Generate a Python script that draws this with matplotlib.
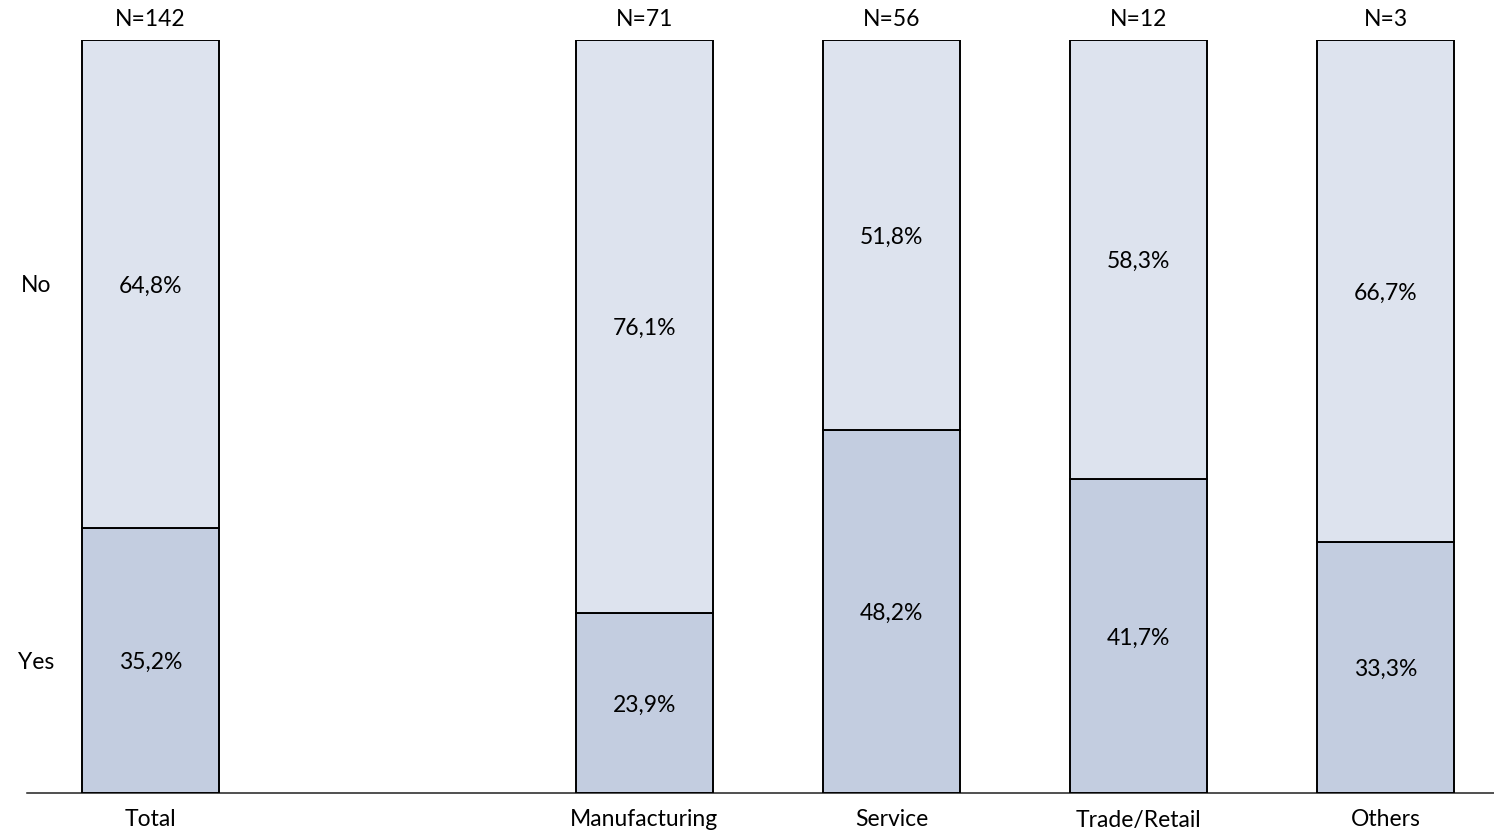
import numpy as np
import matplotlib
matplotlib.use('Agg')
import matplotlib.pyplot as plt

plt.rcParams['font.family'] = ['Lato', 'DejaVu Sans']

# data
categories = ['Total', 'Manufacturing', 'Service', 'Trade/Retail', 'Others']
yes_pct = [35.2, 23.9, 48.2, 41.7, 33.3]
no_pct = [64.8, 76.1, 51.8, 58.3, 66.7]
n_obs = [142, 71, 56, 12, 3]
segment_names = ['Yes', 'No']

YES_COLOR = '#C3CDE0'
NO_COLOR = '#DDE3EE'


def fmt_pct(v):
    """German style percent label, comma as decimal sign"""
    return '{:.1f}%'.format(v).replace('.', ',')


# Total sits alone, one empty slot before the sectors
x = np.array([0] + [i + 2 for i in range(len(categories) - 1)])
yes = np.array(yes_pct)
no = np.array(no_pct)

fig = plt.figure(figsize=(14.94, 8.34), dpi=100)
ax = fig.add_axes([27 / 1494, 41 / 834, 1 - 27 / 1494, 753 / 834])

width = 0.555
ax.bar(x, yes, width, color=YES_COLOR, edgecolor='black', linewidth=1.4, zorder=3)
ax.bar(x, no, width, bottom=yes, color=NO_COLOR, edgecolor='black', linewidth=1.4, zorder=3)

fs = 16.5
va = 'center_baseline'
for xi, y, nv in zip(x, yes, no):
    ax.text(xi, y / 2, fmt_pct(y), ha='center', va=va, fontsize=fs, zorder=4)
    ax.text(xi, y + nv / 2, fmt_pct(nv), ha='center', va=va, fontsize=fs, zorder=4)

for xi, n in zip(x, n_obs):
    ax.annotate('N={}'.format(n), xy=(xi, 100), xytext=(0, 16.5), textcoords='offset points',
                ha='center', va=va, fontsize=fs)

for xi, cat in zip(x, categories):
    ax.annotate(cat, xy=(xi, 0), xytext=(0, -18), textcoords='offset points',
                ha='center', va=va, fontsize=fs)

# row labels beside the Total bar
ax.text(-0.464, yes[0] / 2, segment_names[0], ha='center', va=va, fontsize=fs)
ax.text(-0.464, yes[0] + no[0] / 2, segment_names[1], ha='center', va=va, fontsize=fs)

ax.set_xlim(-0.5, (1494 - 150.5) / 247)
ax.set_ylim(0, 100)
for s in ['top', 'right', 'left']:
    ax.spines[s].set_visible(False)
ax.spines['bottom'].set_linewidth(1.1)
ax.spines['bottom'].set_color('#202020')
ax.set_xticks([])
ax.set_yticks([])

fig.savefig('out.png', dpi=100)
